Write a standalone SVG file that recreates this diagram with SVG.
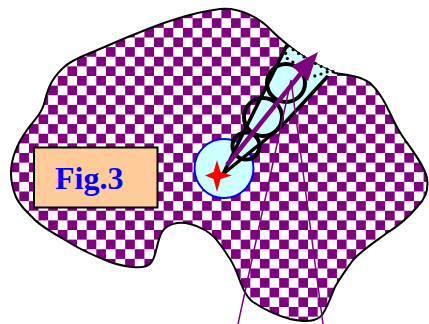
<svg xmlns="http://www.w3.org/2000/svg" width="429" height="324" viewBox="0 0 429 324">
<defs>
<pattern id="chk" patternUnits="userSpaceOnUse" x="57.800" y="76" width="19.250" height="19.250">
<rect width="19.250" height="19.250" fill="#fff"/>
<rect width="9.625" height="9.625" fill="#800080"/>
<rect x="9.625" y="9.625" width="9.625" height="9.625" fill="#800080"/>
</pattern>
</defs>
<style>
.ring{fill:none;stroke:#000;stroke-width:4}
.thin{fill:none;stroke:#800080;stroke-width:1.500}
.dots{fill:none;stroke:#000;stroke-width:3.200;stroke-linecap:round;stroke-dasharray:0 6.500}
</style>
<g id="region">
<path d="M11 173C11 158 17 144 27 130C34 120 41 115 44 104C47 92 50 80 63 68C70 61 80 57 90 53C105 47 120 40 133 35C145 30 160 24 173 20C190 14 205 11 220 9C240 7 260 18 272 31C278 37 283 41 288 45C300 55 316 65 335 73C350 75 362 77 370 83C380 92 385 102 390 113C395 124 398 130 403 137C412 150 424 165 427 178C429 192 424 200 417 207C408 218 398 226 387 233C373 243 362 250 353 260C346 270 340 278 335 287C330 298 326 312 320 317C312 323 300 321 290 319C275 315 262 308 253 302C246 297 242 287 237 273C234 266 232 261 228 256C225 251 222 247 219 243C212 233 200 226 190 224C178 221 167 224 162 232C156 242 157 258 150 264C143 270 125 267 110 262C95 256 80 250 67 241C53 233 40 226 33 218C24 209 19 204 16 197C13 190 11 182 11 173Z" fill="url(#chk)" stroke="#000" stroke-width="2"/>
</g>
<g id="label">
<rect x="34" y="147.500" width="123.500" height="60" fill="#ffcc99" stroke="#000" stroke-width="2"/>
<text x="55" y="189" font-family="'Liberation Serif',serif" font-weight="bold" font-size="32" fill="#0000ff">Fig.3</text>
</g>
<g id="disc">
<circle cx="224" cy="168.500" r="29.500" fill="#ccffff" stroke="#0000ff" stroke-width="2"/>
</g>
<g id="beam">
<path d="M223 174L287 45C300 55 316 65 334 72L328 76L281 127Z" fill="#ccffff"/>
<path d="M328 76L281 127L223 174L287 45" fill="none" stroke="#000" stroke-width="3.500"/>
<path class="dots" d="M288 46C300 55 316 65 334 72"/>
<path class="dots" d="M287 47L285 57L315 76L333 70"/>
</g>
<g id="rings">
<circle class="ring" cx="246" cy="146" r="13.500"/>
<circle class="ring" cx="263" cy="117" r="19"/>
<circle class="ring" cx="286" cy="83" r="19"/>
</g>
<g id="connectors">
<path class="thin" d="M238 324L291 80L323 324"/>
<path d="M227 165L306 67" stroke="#800080" stroke-width="4.500" fill="none"/>
<path d="M318 52L292 66L308 81Z" fill="#800080"/>
</g>
<g id="star">
<path d="M217 160L220.500 172L232 175.500L220.500 179L217 192L213.500 179L205 175.500L213.500 172Z" fill="#ff0000"/>
</g>
</svg>
